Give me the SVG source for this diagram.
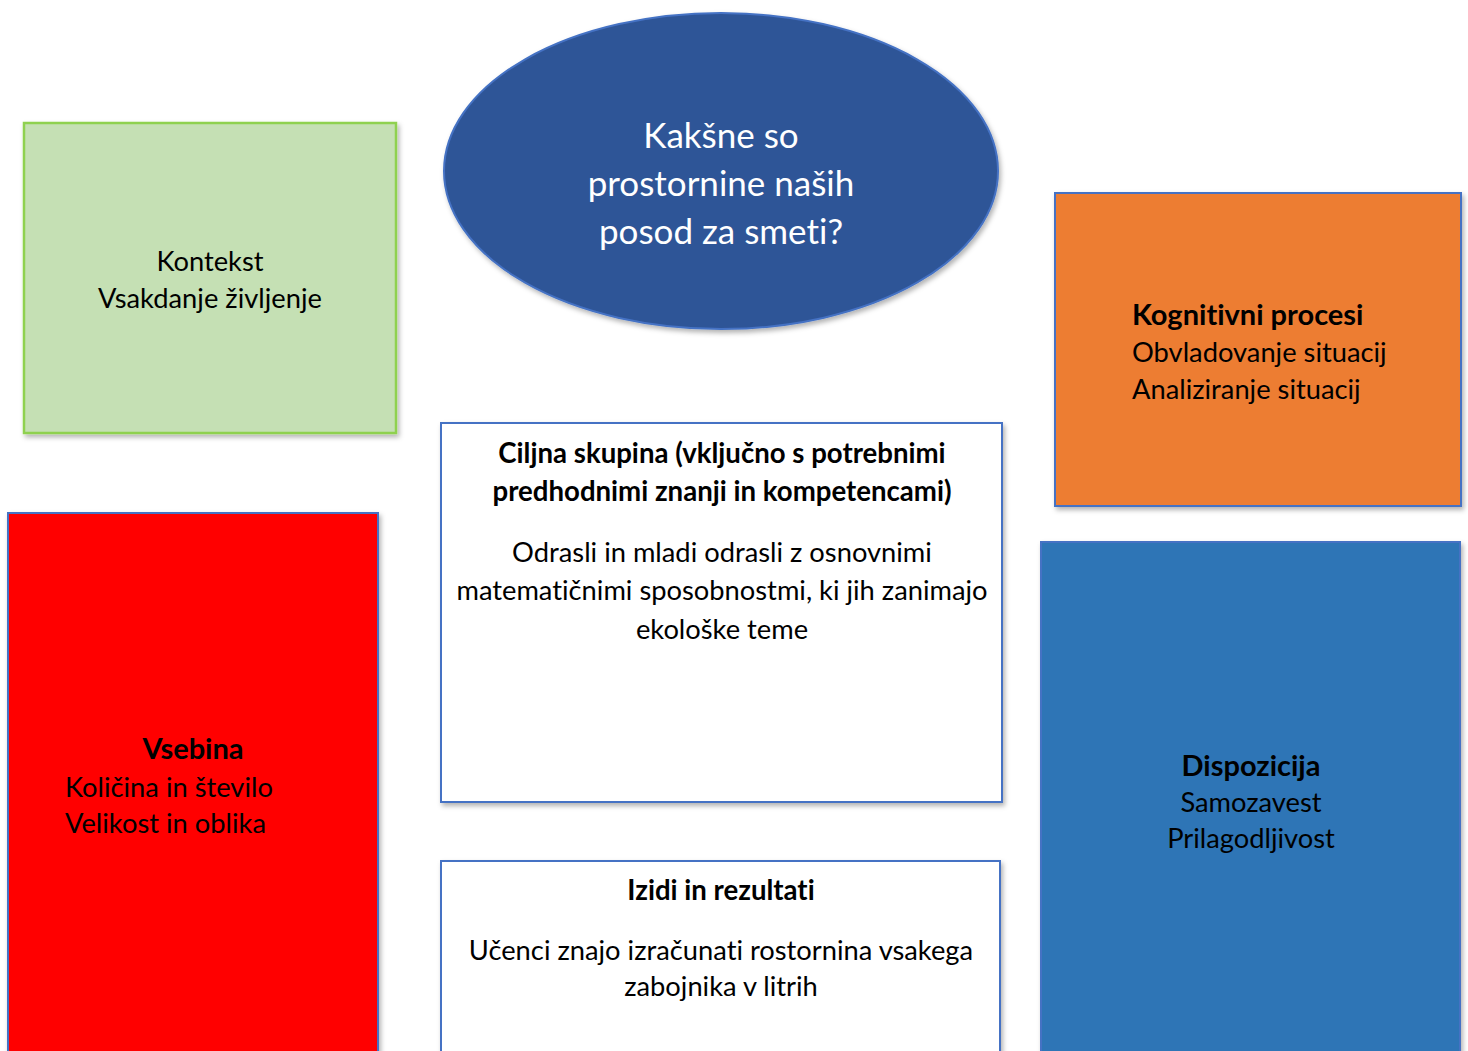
<svg xmlns="http://www.w3.org/2000/svg" width="1468" height="1051" viewBox="0 0 1468 1051">
<defs>
<filter id="sh" x="-10%" y="-10%" width="120%" height="120%">
<feDropShadow dx="2" dy="3" stdDeviation="2.5" flood-color="#000" flood-opacity="0.3"/>
</filter>
</defs>
<style>
text{font-family:Lato,"Open Sans","Liberation Sans",sans-serif;font-size:27.3px;fill:#000;font-variant-ligatures:none}
.b{font-weight:bold}
.t{font-size:29px}
.h{font-size:27.6px}
.c{text-anchor:middle}
.w{fill:#fff;font-size:35px}
.box{stroke:#4472C4;stroke-width:2;filter:url(#sh)}
</style>
<rect width="1468" height="1051" fill="#fff"/>
<g id="connectors"></g>
<g id="kontekst">
<rect x="24" y="123" width="372" height="310" fill="#C5E0B4" stroke="#8FD14F" stroke-width="2.5" filter="url(#sh)"/>
<text class="c" x="210" y="271">Kontekst</text>
<text class="c" x="210" y="308">Vsakdanje življenje</text>
</g>
<g id="vprasanje">
<ellipse cx="721" cy="171" rx="277" ry="158" fill="#2F5597" stroke="#4472C4" stroke-width="2" filter="url(#sh)"/>
<text class="c w" x="721" y="148">Kakšne so</text>
<text class="c w" x="721" y="196">prostornine naših</text>
<text class="c w" x="721" y="244">posod za smeti?</text>
</g>
<g id="kognitivni">
<rect x="1055" y="193" width="406" height="313" fill="#ED7D31" class="box"/>
<text class="b t" x="1132" y="325">Kognitivni procesi</text>
<text x="1132" y="362">Obvladovanje situacij</text>
<text x="1132" y="399">Analiziranje situacij</text>
</g>
<g id="vsebina">
<rect x="8" y="513" width="370" height="560" fill="#FF0000" class="box"/>
<text class="b c t" x="193" y="759">Vsebina</text>
<text x="65" y="797">Količina in število</text>
<text x="65" y="833">Velikost in oblika</text>
</g>
<g id="ciljna">
<rect x="441" y="423" width="561" height="379" fill="#fff" class="box"/>
<text class="b c h" x="722" y="463">Ciljna skupina (vključno s potrebnimi</text>
<text class="b c h" x="722" y="501">predhodnimi znanji in kompetencami)</text>
<text class="c" x="722" y="562">Odrasli in mladi odrasli z osnovnimi</text>
<text class="c" x="722" y="600">matematičnimi sposobnostmi, ki jih zanimajo</text>
<text class="c" x="722" y="639">ekološke teme</text>
</g>
<g id="izidi">
<rect x="441" y="861" width="559" height="220" fill="#fff" class="box"/>
<text class="b c h" x="721" y="900">Izidi in rezultati</text>
<text class="c" x="721" y="960">Učenci znajo izračunati rostornina vsakega</text>
<text class="c" x="721" y="996">zabojnika v litrih</text>
</g>
<g id="dispozicija">
<rect x="1041" y="542" width="419" height="540" fill="#2E75B6" class="box"/>
<text class="b c t" x="1251" y="776">Dispozicija</text>
<text class="c" x="1251" y="812">Samozavest</text>
<text class="c" x="1251" y="848">Prilagodljivost</text>
</g>
</svg>
